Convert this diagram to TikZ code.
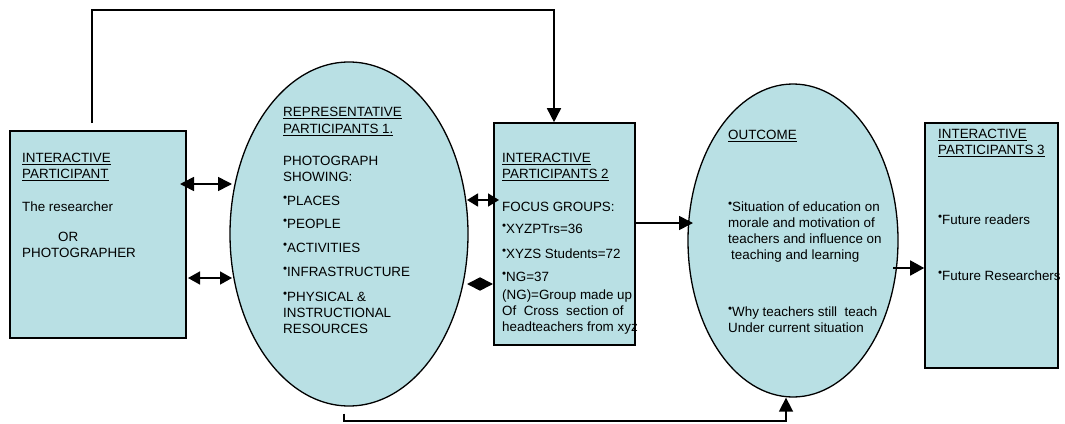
\documentclass[tikz,border=0pt]{standalone}
\usepackage{fontspec}
\setmainfont{Liberation Sans}
\usetikzlibrary{shapes.geometric,arrows.meta}
\definecolor{fillblue}{RGB}{185,224,228}
\newcommand\bul{\raisebox{4.2pt}{\fontsize{11.5}{11.5}\selectfont •}}
\begin{document}
\begin{tikzpicture}[x=1pt,y=-1pt,
  box/.style={draw=black,line width=1.6pt,fill=fillblue,rectangle,inner sep=0pt},
  oval/.style={draw=black,line width=1.3pt,fill=fillblue,ellipse,inner sep=0pt},
  txt/.style={anchor=north west,align=left,inner sep=0pt,font=\fontsize{13.4}{16}\selectfont},
  conn/.style={line width=1.6pt},
  arr/.style={conn,-{Triangle[length=14pt,width=14pt]}},
  darr/.style={conn,{Triangle[length=14pt,width=14pt]}-{Triangle[length=14pt,width=14pt]}},
  sdarr/.style={conn,{Triangle[length=12pt,width=13pt]}-{Triangle[length=12pt,width=13pt]}},
]
\useasboundingbox (0,0) rectangle (1065,423);

% shapes
\node[box,minimum width=176pt,minimum height=207pt] (box1) at (98,234.5) {};
\node[oval,minimum width=238pt,minimum height=344pt] (ell1) at (349,234) {};
\node[box,minimum width=141pt,minimum height=222pt] (box2) at (564.5,234) {};
\node[oval,minimum width=210pt,minimum height=313pt] (ell2) at (793,240.5) {};
\node[box,minimum width=133pt,minimum height=245pt] (box3) at (991.5,245.5) {};

% texts
\node[txt] (t1) at (22,153) {\underline{INTERACTIVE}\\ \underline{PARTICIPANT}\\[17pt] The researcher\\[14pt] \hspace*{36pt}OR\\ PHOTOGRAPHER};
\node[txt] (t2) at (283,107) {\underline{REPRESENTATIVE}\\[1pt] \underline{PARTICIPANTS 1.}\\[16pt] PHOTOGRAPH\\ SHOWING:\\[8pt] \bul PLACES\\[7pt] \bul PEOPLE\\[8pt] \bul ACTIVITIES\\[8pt] \bul INFRASTRUCTURE\\[9pt] \bul PHYSICAL \&\\ INSTRUCTIONAL\\ RESOURCES};
\node[txt] (t3) at (502,153) {\underline{INTERACTIVE}\\ \underline{PARTICIPANTS 2}\\[17pt] FOCUS GROUPS:\\[6pt] \bul XYZPTrs=36\\[9pt] \bul XYZS Students=72\\[7pt] \bul NG=37\\[2pt] (NG)=Group made up\\ Of\ \ Cross\ \ section of\\ headteachers from xyz};
\node[txt] (t4) at (728,130) {\underline{OUTCOME}\\[56pt] \bul Situation of education on\\ morale and motivation of\\ teachers and influence on\\ \hspace*{3pt}teaching and learning\\[41pt] \bul Why teachers still\ \ teach\\ Under current situation};
\node[txt] (t5) at (938,129) {\underline{INTERACTIVE}\\ \underline{PARTICIPANTS 3}\\[54pt] \bul Future readers\\[40pt] \bul Future Researchers};

% connectors
\coordinate (c1) at (92,10);
\coordinate (c2) at (554,10);
\draw[arr] ([yshift=7pt]box1.north -| c1) -- (c1) -- (c2) -- (box2.north -| c2);

\coordinate (c3) at (344,421);
\coordinate (c4) at (786,421);
\draw[arr] ([yshift=-7pt]ell1.south -| c3) -- (c3) -- (c4) -- (ell2.south -| c4);

\coordinate (d1a) at (180,184);
\coordinate (d1b) at (232,184);
\draw[darr] (d1a) -- (d1b);
\coordinate (d2a) at (188,278);
\coordinate (d2b) at (232,278);
\draw[sdarr] (d2a) -- (d2b);

\coordinate (d3a) at (467,200);
\coordinate (d3b) at (499,200);
\draw[conn,{Triangle[length=11pt,width=13pt]}-{Triangle[length=11pt,width=13pt]}] (d3a) -- (d3b);
\coordinate (d4a) at (467,284);
\coordinate (d4b) at (493,284);
\draw[conn,{Triangle[length=13pt,width=13pt]}-{Triangle[length=13pt,width=13pt]}] (d4a) -- (d4b);

\coordinate (e1) at (693,223);
\draw[arr] (box2.east |- e1) -- (e1);
\coordinate (e2) at (893,268);
\draw[conn,-{Triangle[length=14pt,width=15pt]}] (e2) -- (box3.west |- e2);
\end{tikzpicture}
\end{document}
